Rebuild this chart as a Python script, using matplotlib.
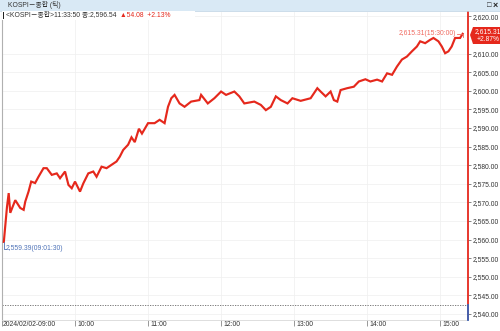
import matplotlib
matplotlib.use("Agg")
import matplotlib.pyplot as plt
from matplotlib.patches import Rectangle, Polygon
from matplotlib.lines import Line2D

# ---------------- data ----------------
minutes = [1.5, 4.1, 5.5, 6.8, 10.9, 15.0, 17.8, 19.1, 21.8, 24.0, 27.2, 30.0, 34.1, 36.8,
           40.9, 45.0, 47.7, 51.8, 54.6, 57.3, 60.0, 64.1, 66.8, 70.9, 75.0, 77.7, 81.8,
           85.9, 90.0, 94.1, 96.8, 99.6, 103.6, 106.4, 109.1, 112.5, 115.0, 120.0, 125.4,
           129.5, 133.6, 136.4, 139.1, 141.8, 145.9, 150.0, 155.4, 162.2, 163.6, 169.1,
           174.5, 180.0, 184.1, 190.9, 195.0, 199.1, 207.3, 212.7, 216.8, 220.9, 225.0,
           229.1, 234.6, 238.6, 245.4, 253.6, 259.1, 261.8, 265.9, 270.0, 272.7, 275.5,
           278.2, 283.6, 289.1, 293.2, 298.6, 302.7, 308.2, 312.3, 316.4, 320.5, 324.5,
           328.6, 332.7, 336.8, 340.9, 343.6, 347.7, 351.8, 354.5, 358.6, 361.4, 364.1,
           366.8, 369.5, 372.3, 376.4, 378.5]
prices = [2559.39, 2568.8, 2572.5, 2567.2, 2570.6, 2568.5, 2568.0, 2570.2, 2572.9, 2575.6,
          2575.2, 2576.9, 2579.2, 2579.2, 2577.4, 2577.8, 2576.5, 2578.3, 2574.7, 2573.8,
          2575.6, 2572.9, 2575.1, 2577.8, 2578.3, 2576.9, 2579.6, 2579.2, 2580.1, 2581.0,
          2582.3, 2584.1, 2585.5, 2587.5, 2586.2, 2589.8, 2588.5, 2591.3, 2591.3, 2592.2,
          2591.3, 2595.7, 2598.0, 2598.9, 2596.6, 2595.7, 2597.1, 2597.5, 2598.9, 2596.6,
          2598.0, 2599.8, 2598.9, 2599.8, 2598.5, 2596.6, 2597.1, 2596.2, 2594.8, 2595.7,
          2598.5, 2597.5, 2596.6, 2598.0, 2597.3, 2598.0, 2600.7, 2599.8, 2598.5, 2599.8,
          2597.5, 2597.1, 2600.2, 2600.7, 2601.1, 2602.5, 2603.1, 2602.5, 2603.0, 2602.5,
          2604.7, 2604.3, 2606.5, 2608.4, 2609.2, 2610.6, 2611.9, 2613.3, 2612.8, 2613.7,
          2614.2, 2613.3, 2611.9, 2610.1, 2610.6, 2611.9, 2614.2, 2614.2, 2615.31]
prev_close = 2542.46
hour_ticks = [0, 60, 120, 180, 240, 300, 360]
hour_labels = ["2024/02/02-09:00", "10:00", "11:00", "12:00", "13:00", "14:00", "15:00"]
y_ticks = [2540, 2545, 2550, 2555, 2560, 2565, 2570, 2575, 2580, 2585, 2590, 2595,
           2600, 2605, 2610, 2620]
y_labels = [f"{v:,.2f}" for v in y_ticks]
title = "KOSPI－종합 (틱)"
info_black = "<KOSPI－종합>11:33:50 종:2,596.54"
info_red = "▲54.08  +2.13%"
start_label = "2,559.39(09:01:30)"
end_label = "2,615.31(15:30:00)"
box_lines = ["2,615.31", "+2.87%"]

FAM = ["Liberation Sans", "Noto Sans CJK KR", "DejaVu Sans"]
FS = 4.9
RED = "#e5281c"
W, H = 500, 331

def fx(x):
    return x / W

def fy(y):
    return 1 - y / H

fig = plt.figure(figsize=(5.0, 3.31), dpi=100)
fig.patch.set_facecolor("white")

# axes: x 2..468 px, y 12..320 px
ax = fig.add_axes([fx(2), fy(320), fx(468) - fx(2), fy(12) - fy(320)])
ax.set_xlim(0, 382.9)
ax.set_ylim(2538.39, 2621.18)

ax.plot(minutes, prices, color=RED, lw=1.55, solid_joinstyle="miter", zorder=3)
ax.axhline(prev_close, color="#666666", lw=0.6, ls=(0, (1.5, 1.5)), zorder=2)

# grid
for v in y_ticks:
    ax.axhline(v, color="#efefef", lw=0.5, zorder=1)
for t in hour_ticks[1:]:
    ax.axvline(t, color="#efefef", lw=0.5, zorder=1)

ax.spines["top"].set_visible(False)
ax.spines["left"].set_color("#b0b0b0")
ax.spines["left"].set_linewidth(0.8)
ax.spines["bottom"].set_color("#d8d8d8")
ax.spines["bottom"].set_linewidth(0.6)
ax.spines["right"].set_color(RED)
ax.spines["right"].set_linewidth(1.3)

ax.yaxis.tick_right()
ax.set_yticks(y_ticks)
ax.set_yticklabels(y_labels, fontsize=FS, family=FAM, color="#333333")
ax.tick_params(axis="y", length=2, width=0.5, color="#555555", pad=1.5)
ax.set_xticks(hour_ticks)
ax.set_xticklabels([])
ax.tick_params(axis="x", length=4.5, width=0.6, color="#888888")
for t, lab in zip(hour_ticks, hour_labels):
    ax.annotate(lab, xy=(t, 0), xycoords=("data", "axes fraction"),
                xytext=(2 if t > 0 else 1, -1), textcoords="offset pixels",
                ha="left", va="top", fontsize=FS, family=FAM, color="#333333",
                annotation_clip=False)

# blue bottom segment on right axis
ax.plot([382.9, 382.9], [2538.39, prev_close], color="#3a64b8", lw=1.3,
        clip_on=False, zorder=4)

# start label
ax.plot([minutes[0], minutes[0], minutes[0] + 1.8],
        [prices[0], prices[0] - 1.9, prices[0] - 1.9], color="#4f73b8", lw=0.6,
        clip_on=False, zorder=4)
ax.annotate(start_label, xy=(minutes[0] + 1.8, prices[0] - 1.9), xytext=(0, 0),
            textcoords="offset pixels", ha="left", va="center", fontsize=FS,
            family=FAM, color="#4f73b8")

# end label
ax.plot([minutes[-1] - 5.0, minutes[-1], minutes[-1]],
        [prices[-1], prices[-1], prices[-1] - 0.9], color="#f06a60", lw=0.6, zorder=4)
ax.annotate(end_label, xy=(minutes[-1] - 5.0, prices[-1]), xytext=(-0.5, 0),
            textcoords="offset pixels", ha="right", va="center", fontsize=FS,
            family=FAM, color="#f06a60")

# ---- title bar ----
fig.patches.append(Rectangle((0, fy(10.5)), 1, 1 - fy(10.5), transform=fig.transFigure,
                             facecolor="#d9e9f5", edgecolor="none", zorder=0))
fig.add_artist(Line2D([0, 1], [fy(10.5), fy(10.5)], transform=fig.transFigure,
                      color="#b8cfe2", lw=0.5))
fig.text(fx(8), fy(5.2), title, fontsize=FS, family=FAM, color="#333333",
         ha="left", va="center")
fig.text(fx(487), fy(5.2), "□", fontsize=FS + 0.5, family=FAM, color="#222222",
         ha="left", va="center", weight="bold")
fig.text(fx(493), fy(5.2), "×", fontsize=FS + 1.5, family=FAM, color="#222222",
         ha="left", va="center", weight="bold")

# ---- info row ----
fig.add_artist(Rectangle((fx(2), fy(20)), fx(195) - fx(2), fy(11) - fy(20),
                         transform=fig.transFigure, facecolor="white",
                         edgecolor="none", zorder=5))
fig.add_artist(Rectangle((fx(2.5), fy(18.5)), fx(1.8), fy(12.5) - fy(18.5),
                         transform=fig.transFigure, facecolor="#222222",
                         edgecolor="none", zorder=6))
tb = fig.text(fx(6), fy(15.5), info_black, fontsize=FS, family=FAM, color="#333333",
              ha="left", va="center", zorder=6)
fig.canvas.draw()
bb = tb.get_window_extent()
fig.text(bb.x1 / fig.bbox.width + fx(3), fy(15.5), info_red, fontsize=FS, family=FAM,
         color=RED, ha="left", va="center", zorder=6)

# ---- red value box on right axis ----
poly = Polygon([(fx(470), fy(35)), (fx(473), fy(27)), (fx(500), fy(27)),
                (fx(500), fy(44)), (fx(473), fy(44))], closed=True,
               transform=fig.transFigure, facecolor=RED, edgecolor="none", zorder=7)
fig.add_artist(poly)
fig.text(fx(475), fy(31.3), box_lines[0], fontsize=FS, family=FAM, color="white",
         ha="left", va="center", zorder=8)
fig.text(fx(477), fy(39.3), box_lines[1], fontsize=FS, family=FAM, color="white",
         ha="left", va="center", zorder=8)

fig.savefig("out.png", dpi=100, facecolor="white")
